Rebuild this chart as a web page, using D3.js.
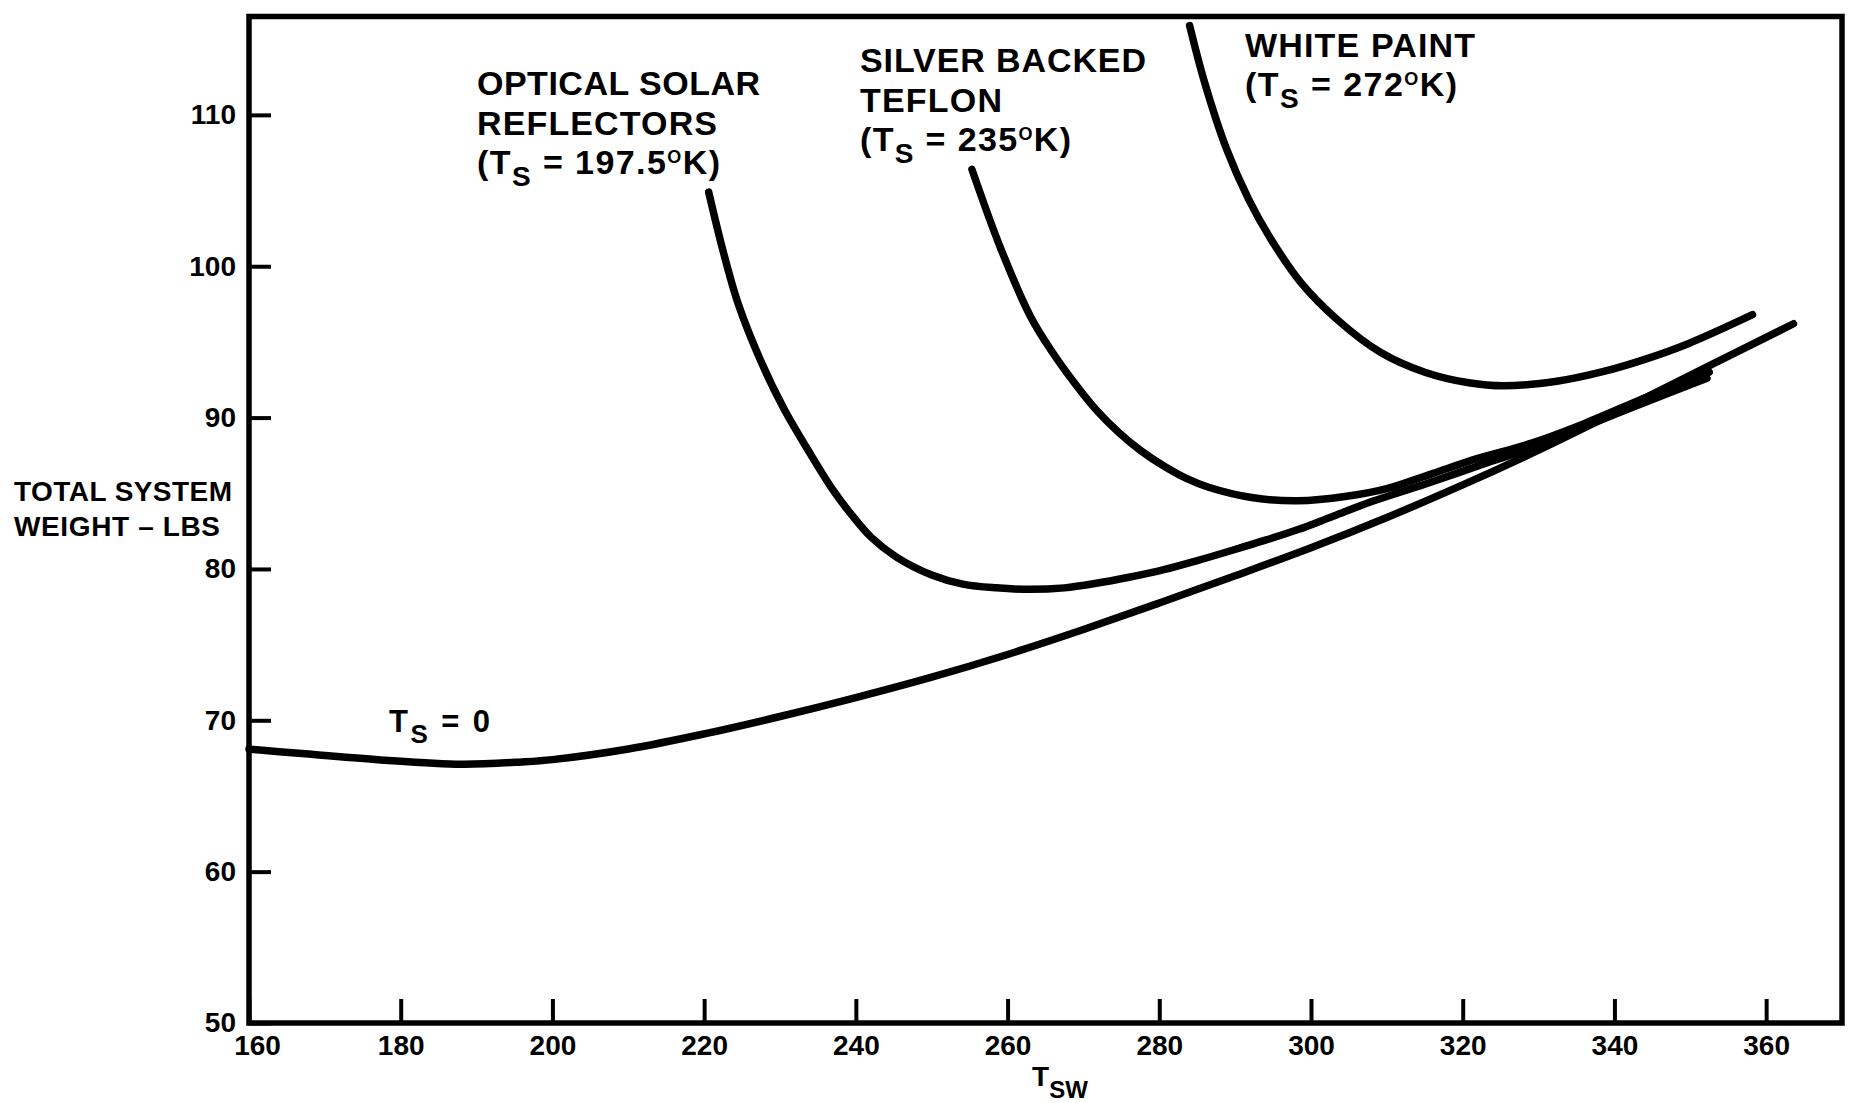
<!DOCTYPE html>
<html>
<head>
<meta charset="utf-8">
<script src="https://cdn.jsdelivr.net/npm/d3@7"></script>
<style>
  html, body { margin: 0; padding: 0; background: #fff; }
  svg { display: block; }
  text { font-family: "Liberation Sans", Arial, sans-serif; font-weight: bold; fill: #000; }
</style>
</head>
<body>
<svg id="chart" width="1849" height="1103"></svg>
<script>
// ─── 1. DATA ──────────────────────────────────────────────────────────────────

const X_TICKS = [160, 180, 200, 220, 240, 260, 280, 300, 320, 340, 360];
const Y_TICKS = [50, 60, 70, 80, 90, 100, 110];

// [T_SW, total system weight in lbs]
const TS_ZERO = [
  [160, 68.1], [167, 67.8], [177, 67.4], [188, 67.1], [196, 67.25], [200, 67.4],
  [210, 68.1], [220, 69.1], [230, 70.25], [240, 71.5], [250, 72.85], [260, 74.35],
  [270, 76.0], [280, 77.75], [290, 79.55], [300, 81.4], [310, 83.4], [320, 85.55],
  [330, 87.85], [340, 90.3], [352, 93.3], [363.6, 96.2]
];

const OPTICAL_SOLAR = [
  [220.6, 104.9], [222.5, 101.0], [224.5, 97.5], [227.5, 93.7], [230.5, 90.6],
  [234, 87.6], [237, 85.2], [239.4, 83.6], [242, 82.1], [245.3, 80.8],
  [250, 79.6], [254.1, 79.0], [258.5, 78.75], [262.9, 78.65], [267.5, 78.75],
  [271.7, 79.05], [276, 79.45], [280.6, 79.95], [285, 80.55], [289.4, 81.2],
  [294, 81.9], [298.3, 82.6], [303, 83.5], [308, 84.45], [315, 85.6],
  [322, 86.8], [329, 88.0], [336, 89.4], [344, 91.0], [352.2, 92.6]
];

const SILVER_TEFLON = [
  [255.3, 106.4], [259, 101.3], [263, 96.7], [265.8, 94.4], [268.8, 92.3],
  [271.7, 90.5], [274.7, 89.0], [277.6, 87.8], [280.6, 86.8], [283.5, 86.0],
  [286.5, 85.4], [292.4, 84.7], [298.3, 84.5], [304.7, 84.8], [310, 85.3],
  [316, 86.3], [322, 87.3], [329, 88.3], [336, 89.6], [344, 91.3], [352.5, 93.0]
];

const WHITE_PAINT = [
  [284.0, 115.9], [286.0, 112.1], [288.9, 107.7], [291.8, 104.4], [294.7, 101.8],
  [298.7, 98.9], [303.4, 96.5], [309.2, 94.3], [315.0, 93.0], [320.8, 92.3],
  [325.4, 92.1], [332.4, 92.4], [338.2, 93.0], [344.0, 93.85], [349.8, 94.9],
  [358.2, 96.8]
];

const SERIES_NAMES = [["OPTICAL SOLAR", "REFLECTORS"], ["SILVER BACKED", "TEFLON"], ["WHITE PAINT"]];
const SERIES_TS    = ["197.5", "235", "272"];

const Y_TITLE = ["TOTAL SYSTEM", "WEIGHT \u2013 LBS"];

// ─── 2. SCALES & FRAME ────────────────────────────────────────────────────────

const svg = d3.select("#chart");

const x = d3.scaleLinear().domain([160, 370]).range([249, 1842]);
const y = d3.scaleLinear().domain([50, 116.5]).range([1023, 16.5]);

const [x0, x1] = x.range();
const [y0, y1] = y.range();

// y ticks point inward, labels sit left of the frame
const yAxis = svg.append("g")
  .attr("transform", `translate(${x0},0)`)
  .call(d3.axisLeft(y).tickValues(Y_TICKS).tickSizeInner(-22).tickSizeOuter(0).tickPadding(13));

const xAxis = svg.append("g")
  .attr("transform", `translate(0,${y0})`)
  .call(d3.axisBottom(x).tickValues(X_TICKS).tickSizeInner(-24).tickSizeOuter(0).tickPadding(12));

[yAxis, xAxis].forEach(g => {
  g.attr("font-size", 28);
  g.select(".domain").remove();
  g.selectAll(".tick line").attr("stroke", "#000").attr("stroke-width", 4);
  g.selectAll(".tick text").attr("fill", "#000");
});
xAxis.selectAll(".tick text").filter(d => d === 160).attr("dx", 8);

svg.append("rect")
  .attr("x", x0).attr("y", y1)
  .attr("width", x1 - x0).attr("height", y0 - y1)
  .attr("fill", "none")
  .attr("stroke", "#000")
  .attr("stroke-width", 5.5);

// ─── 3. CURVES ────────────────────────────────────────────────────────────────

const line = d3.line()
  .x(d => x(d[0]))
  .y(d => y(d[1]))
  .curve(d3.curveCatmullRom.alpha(0.5));

svg.append("g")
  .selectAll("path")
  .data([TS_ZERO, OPTICAL_SOLAR, SILVER_TEFLON, WHITE_PAINT])
  .join("path")
  .attr("d", line)
  .attr("fill", "none")
  .attr("stroke", "#000")
  .attr("stroke-width", 7.5)
  .attr("stroke-linecap", "round")
  .attr("stroke-linejoin", "round");

// ─── 4. TEXT ──────────────────────────────────────────────────────────────────

/**
 * One line of bold text built from parts (plain, subscript, superscript).
 * Letter spacing is stretched so the line spans the measured width.
 */
function textLine(x, y, parts, width, size = 34) {
  const text = svg.append("text").attr("x", x).attr("y", y).attr("font-size", size);
  let shift = 0;
  parts.forEach(p => {
    const s = p.shift || 0;
    text.append("tspan")
      .attr("dy", s - shift)
      .attr("font-size", p.size || size)
      .text(p.text);
    shift = s;
  });
  const w = text.node().getComputedTextLength();
  const n = text.text().length;
  if (width && n > 1) text.style("letter-spacing", `${((width - w) / (n - 1)).toFixed(2)}px`);
  return text;
}

const tsParts = ts => [
  { text: "(T" },
  { text: "S", size: 28, shift: 12 },
  { text: ` = ${ts}` },
  { text: "O", size: 18, shift: -11 },
  { text: "K)" },
];

const LABEL_LAYOUT = [
  { x: 477,  y: 95, gap: 39.5, widths: [283, 240, 243] },
  { x: 860,  y: 72, gap: 39.5, widths: [286, 142, 211] },
  { x: 1245, y: 57, gap: 39,   widths: [230, 212] },
];

SERIES_NAMES.forEach((names, i) => {
  const L = LABEL_LAYOUT[i];
  names.forEach((name, j) => textLine(L.x, L.y + j * L.gap, [{ text: name }], L.widths[j]));
  textLine(L.x, L.y + names.length * L.gap, tsParts(SERIES_TS[i]), L.widths[names.length]);
});

// baseline curve label
textLine(389, 732, [{ text: "T" }, { text: "S", size: 26, shift: 11 }, { text: " = 0" }], 101, 31);

// axis titles
Y_TITLE.forEach((t, i) => textLine(14, 501 + i * 35, [{ text: t }], [218, 206][i], 28));
textLine(1032, 1086, [{ text: "T" }, { text: "SW", size: 24, shift: 12 }], 56, 28);
</script>
</body>
</html>
